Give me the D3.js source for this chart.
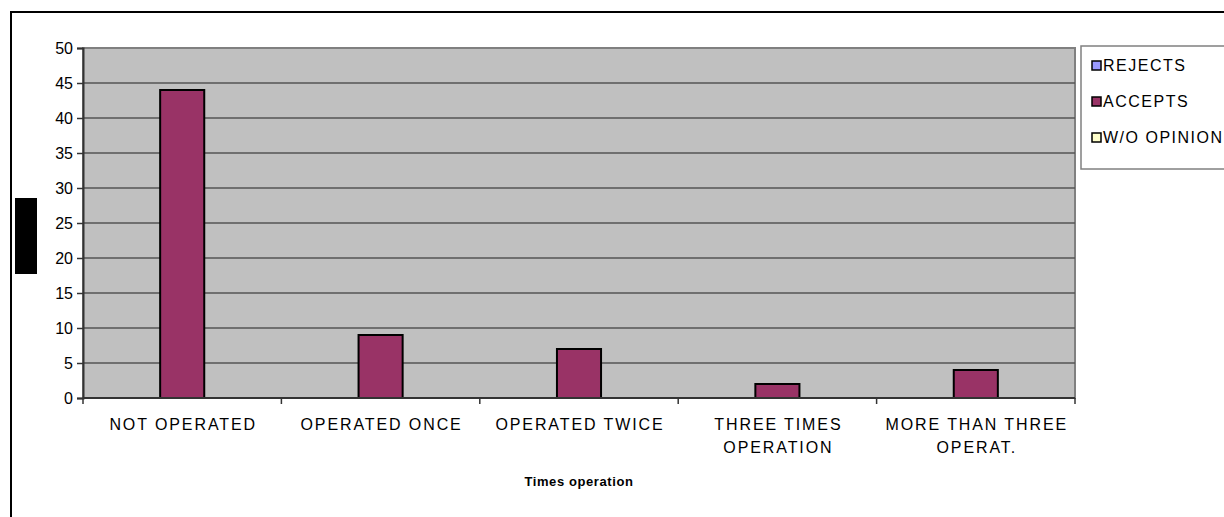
<!DOCTYPE html>
<html>
<head>
<meta charset="utf-8">
<script src="https://cdn.jsdelivr.net/npm/d3@7"></script>
<style>
  html, body { margin: 0; padding: 0; background: #fff; }
  svg { display: block; font-family: Arial, "Liberation Sans", sans-serif; }
</style>
</head>
<body>
<svg id="chart" width="1224" height="517"></svg>
<script>
// Survey answers grouped by how many times the respondent was operated on
const categories = [
  ["NOT OPERATED"],
  ["OPERATED ONCE"],
  ["OPERATED TWICE"],
  ["THREE TIMES", "OPERATION"],
  ["MORE THAN THREE", "OPERAT."]
];
const seriesNames = ["REJECTS", "ACCEPTS", "W/O OPINION"];
const seriesColors = ["#9999FF", "#993366", "#FFFFCC"];
const rejects   = [0, 0, 0, 0, 0];
const accepts   = [44, 9, 7, 2, 4];
const noOpinion = [0, 0, 0, 0, 0];
const yTicks = [0, 5, 10, 15, 20, 25, 30, 35, 40, 45, 50];
const xTitle = "Times operation";

const seriesValues = [rejects, accepts, noOpinion];
const svg = d3.select("#chart");
const FONT = "Arial, 'Liberation Sans', sans-serif";

// Outer chart frame
svg.append("rect")
  .attr("x", 11).attr("y", 12).attr("width", 1240).attr("height", 530)
  .attr("fill", "#fff").attr("stroke", "#000").attr("stroke-width", 2);

const plot = { left: 83, top: 48, right: 1075, bottom: 398 };

const x0 = d3.scaleBand()
  .domain(d3.range(categories.length))
  .range([plot.left, plot.right])
  .paddingInner(0).paddingOuter(0);

// three bars per category, gap equal to 1.5 bar widths
const x1 = d3.scaleBand()
  .domain(d3.range(seriesNames.length))
  .range([0, x0.bandwidth()])
  .paddingInner(0)
  .paddingOuter(0.75);

const y = d3.scaleLinear().domain([0, 50]).range([plot.bottom, plot.top]);

// Plot background
svg.append("rect")
  .attr("x", plot.left).attr("y", plot.top)
  .attr("width", plot.right - plot.left).attr("height", plot.bottom - plot.top)
  .attr("fill", "#C0C0C0").attr("stroke", "#808080").attr("stroke-width", 2);

// Horizontal gridlines
svg.append("g")
  .selectAll("line")
  .data(yTicks.filter(t => t > 0 && t < 50))
  .join("line")
  .attr("x1", plot.left).attr("x2", plot.right)
  .attr("y1", d => y(d)).attr("y2", d => y(d))
  .attr("stroke", "#555").attr("stroke-width", 1.5);

// Y axis
const yAxis = svg.append("g")
  .attr("transform", `translate(${plot.left},0)`)
  .call(d3.axisLeft(y).tickValues(yTicks).tickSize(6).tickPadding(4));
yAxis.select(".domain").attr("stroke", "#333").attr("stroke-width", 2);
yAxis.selectAll(".tick line").attr("stroke", "#333").attr("stroke-width", 1.5);
yAxis.selectAll(".tick text")
  .attr("font-size", 16).attr("fill", "#000")
  .attr("font-family", FONT);

// Bars
const groups = svg.append("g")
  .selectAll("g")
  .data(categories.map((c, i) => i))
  .join("g")
  .attr("transform", i => `translate(${x0(i)},0)`);

groups.selectAll("rect")
  .data(i => seriesValues.map((vals, s) => ({ s, v: vals[i] })).filter(d => d.v > 0))
  .join("rect")
  .attr("x", d => x1(d.s))
  .attr("width", x1.bandwidth())
  .attr("y", d => y(d.v))
  .attr("height", d => y(0) - y(d.v))
  .attr("fill", d => seriesColors[d.s])
  .attr("stroke", "#000").attr("stroke-width", 2);

// X axis line with category separators
const xAxis = svg.append("g");
xAxis.append("line")
  .attr("x1", plot.left).attr("x2", plot.right)
  .attr("y1", plot.bottom).attr("y2", plot.bottom)
  .attr("stroke", "#333").attr("stroke-width", 2);
xAxis.selectAll("line.sep")
  .data(d3.range(categories.length + 1))
  .join("line")
  .attr("class", "sep")
  .attr("x1", i => plot.left + i * x0.step())
  .attr("x2", i => plot.left + i * x0.step())
  .attr("y1", plot.bottom).attr("y2", plot.bottom + 6)
  .attr("stroke", "#333").attr("stroke-width", 1.5);

// Category labels
const catLabels = svg.append("g")
  .selectAll("text")
  .data(categories.map((lines, i) => ({ lines, i })))
  .join("text")
  .attr("text-anchor", "middle")
  .attr("font-size", 16)
  .attr("letter-spacing", 1.9)
  .attr("fill", "#000");
catLabels.selectAll("tspan")
  .data(d => d.lines.map((t, k) => ({ t, k, i: d.i })))
  .join("tspan")
  .attr("x", d => x0(d.i) + x0.bandwidth() / 2 + 1)
  .attr("y", d => 430 + d.k * 23)
  .text(d => d.t);

// X axis title
svg.append("text")
  .attr("x", (plot.left + plot.right) / 2)
  .attr("y", 486)
  .attr("text-anchor", "middle")
  .attr("font-size", 13).attr("font-weight", "bold")
  .attr("letter-spacing", 0.6)
  .text(xTitle);

// Y axis title block
svg.append("rect")
  .attr("x", 15).attr("y", 198).attr("width", 22).attr("height", 76)
  .attr("fill", "#000");

// Legend
const legend = svg.append("g");
legend.append("rect")
  .attr("x", 1081).attr("y", 46).attr("width", 160).attr("height", 123)
  .attr("fill", "#fff").attr("stroke", "#808080").attr("stroke-width", 1.5);
const legendY = [65, 101, 137];
const items = legend.selectAll("g.item")
  .data(seriesNames.map((n, i) => ({ n, i })))
  .join("g").attr("class", "item")
  .attr("transform", d => `translate(1092,${legendY[d.i]})`);
items.append("rect")
  .attr("x", 0).attr("y", -4).attr("width", 9).attr("height", 9)
  .attr("fill", d => seriesColors[d.i])
  .attr("stroke", "#000").attr("stroke-width", 1.5);
items.append("text")
  .attr("x", 11).attr("y", 6)
  .attr("font-size", 16).attr("letter-spacing", 1.5)
  .text(d => d.n);
</script>
</body>
</html>
